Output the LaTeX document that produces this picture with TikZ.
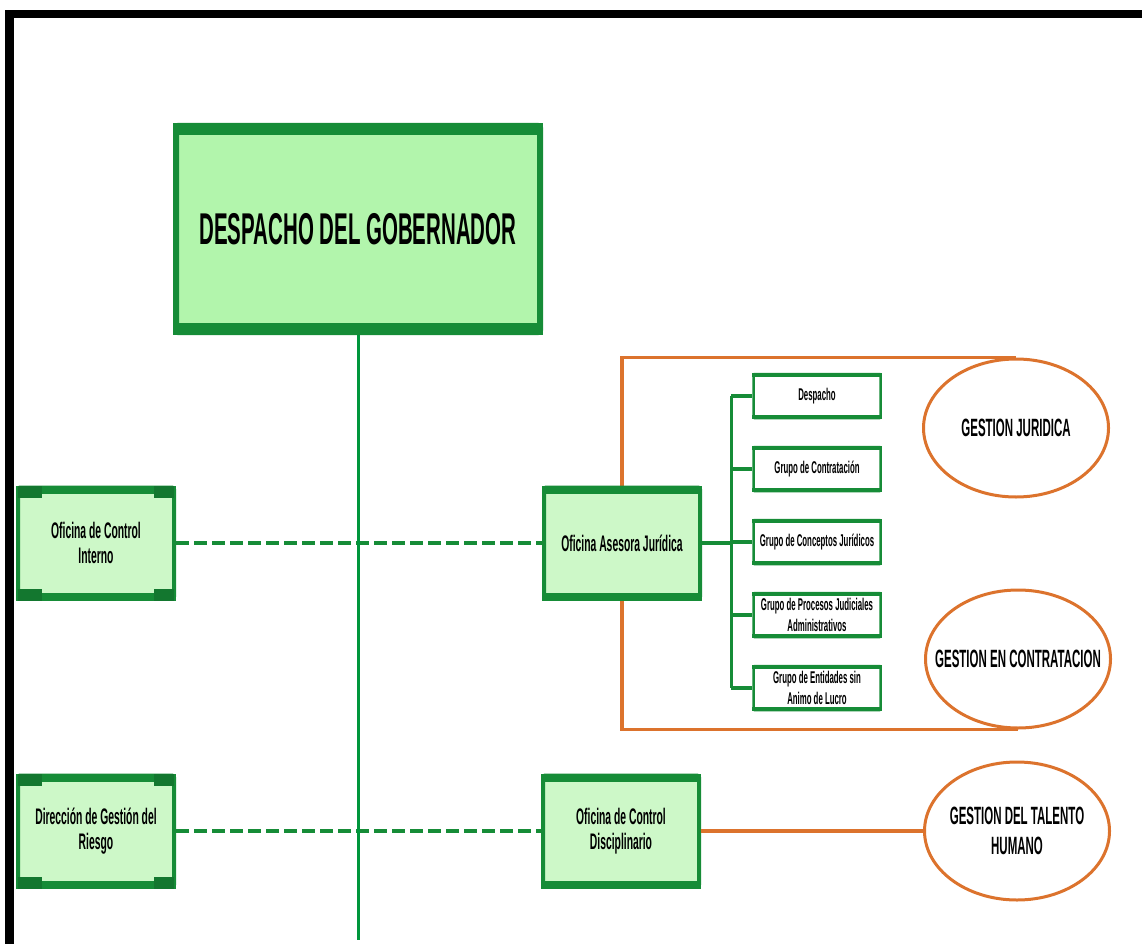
\documentclass[tikz,border=0pt]{standalone}
\usepackage{fontspec}
\setmainfont{Liberation Sans}[FakeStretch=0.46]
\usetikzlibrary{positioning, shapes.geometric, backgrounds}
\definecolor{govgreen}{RGB}{22, 140, 55}
\definecolor{linegreen}{RGB}{0, 150, 60}
\definecolor{govfill}{RGB}{178, 245, 172}
\definecolor{unitfill}{RGB}{205, 248, 200}
\definecolor{procorange}{RGB}{220, 115, 45}

\begin{document}
\begin{tikzpicture}[x=1pt, y=-1pt,
  unitbox/.style={draw=govgreen, line width=4pt, fill=unitfill, rounded corners=2pt, inner sep=0pt, align=center,
    minimum width=156pt, minimum height=111pt, font=\fontsize{22.5}{25}\selectfont\bfseries},
  groupbox/.style={draw=govgreen, line width=2.5pt, fill=white, rounded corners=1pt, inner sep=0pt, align=center,
    minimum width=127pt, minimum height=44pt, font=\fontsize{17}{21}\selectfont\bfseries},
  process/.style={ellipse, draw=procorange, line width=3pt, fill=white, inner sep=0pt,
    minimum width=185pt, minimum height=138pt, font=\fontsize{25}{38}\selectfont\bfseries},
  staffline/.style={govgreen, line width=4.5pt, dash pattern=on 13pt off 5pt},
  busline/.style={govgreen, line width=3.5pt},
  procline/.style={procorange, line width=3.5pt}]
  \useasboundingbox (0,0) rectangle (1142,944);

  % Frame
  \fill[black] (5,10) rectangle (1142,18);
  \fill[black] (5,10) rectangle (14,944);

  % Governor
  \node[unitbox, fill=govfill, line width=6pt, minimum width=364pt, minimum height=206pt,
    font=\fontsize{44.5}{50}\selectfont\bfseries] (gob) at (358, 229) {DESPACHO DEL GOBERNADOR};
  \coordinate (bottom) at (357, 940);

  % Offices
  \node[unitbox] (oci) at (96, 543) {Oficina de Control\\Interno};
  \node[unitbox] (dgr) at (96, 831) {Dirección de Gestión del\\Riesgo};
  \node[unitbox] (oaj) at (622, 543) {Oficina Asesora Jurídica};
  \node[unitbox] (ocd) at (621, 831) {Oficina de Control\\Disciplinario};

  % Legal groups
  \node[groupbox] (sd) at (817, 396) {Despacho};
  \node[groupbox, below=26.5pt of sd] (sc) {Grupo de Contratación};
  \node[groupbox, below=26.5pt of sc] (scj) {Grupo de Conceptos Jurídicos};
  \node[groupbox, below=26.5pt of scj] (spj) {Grupo de Procesos Judiciales\\Administrativos};
  \node[groupbox, below=26.5pt of spj] (sel) {Grupo de Entidades sin\\Animo de Lucro};
  \coordinate (bus) at ([xshift=-21pt]sd.west);

  % Processes
  \node[process] (gj) at (1016, 428) {\makebox[0pt]{GESTION JURIDICA}};
  \node[process] (gc) at (1018, 659) {\makebox[0pt]{GESTION EN CONTRATACION}};
  \node[process] (gth) at (1017, 831) {\makebox[0pt]{\shortstack{GESTION DEL TALENTO\\[10pt]HUMANO}}};

  % Thick bands
  \foreach \n/\bw in {gob/12, oci/8, dgr/8, oaj/8, ocd/8, sd/4, sc/4, scj/4, spj/4, sel/4} {
    \fill[govgreen] (\n.north west) rectangle ([yshift=-\bw pt]\n.north east);
    \fill[govgreen] (\n.south west) rectangle ([yshift=\bw pt]\n.south east);
  }
  \foreach \n in {oci, dgr} {
    \fill[govgreen!85!black] ([xshift=2pt]\n.north west) rectangle ([xshift=26pt, yshift=-12pt]\n.north west);
    \fill[govgreen!85!black] ([xshift=-2pt]\n.north east) rectangle ([xshift=-22pt, yshift=-12pt]\n.north east);
    \fill[govgreen!85!black] ([xshift=2pt]\n.south west) rectangle ([xshift=26pt, yshift=12pt]\n.south west);
    \fill[govgreen!85!black] ([xshift=-2pt]\n.south east) rectangle ([xshift=-22pt, yshift=12pt]\n.south east);
  }

  % Connectors
  \draw[staffline] (oci.east) -- (oaj.west);
  \draw[staffline] (dgr.east) -- (ocd.west);
  \draw[linegreen, line width=3pt] (gob.south) -- (gob.south |- bottom);
  \draw[busline] (oaj.east) -- (oaj.east -| bus);
  \draw[busline] (sd.west -| bus) -- (sel.west -| bus);
  \foreach \g in {sd, sc, scj, spj, sel}
    \draw[busline] (\g.west -| bus) -- (\g.west);
  \begin{scope}[on background layer]
    \draw[procline] (gj.north) -| (oaj.center) |- (gc.south);
  \end{scope}
  \draw[procline] (ocd.east) -- (gth.west);
\end{tikzpicture}
\end{document}
